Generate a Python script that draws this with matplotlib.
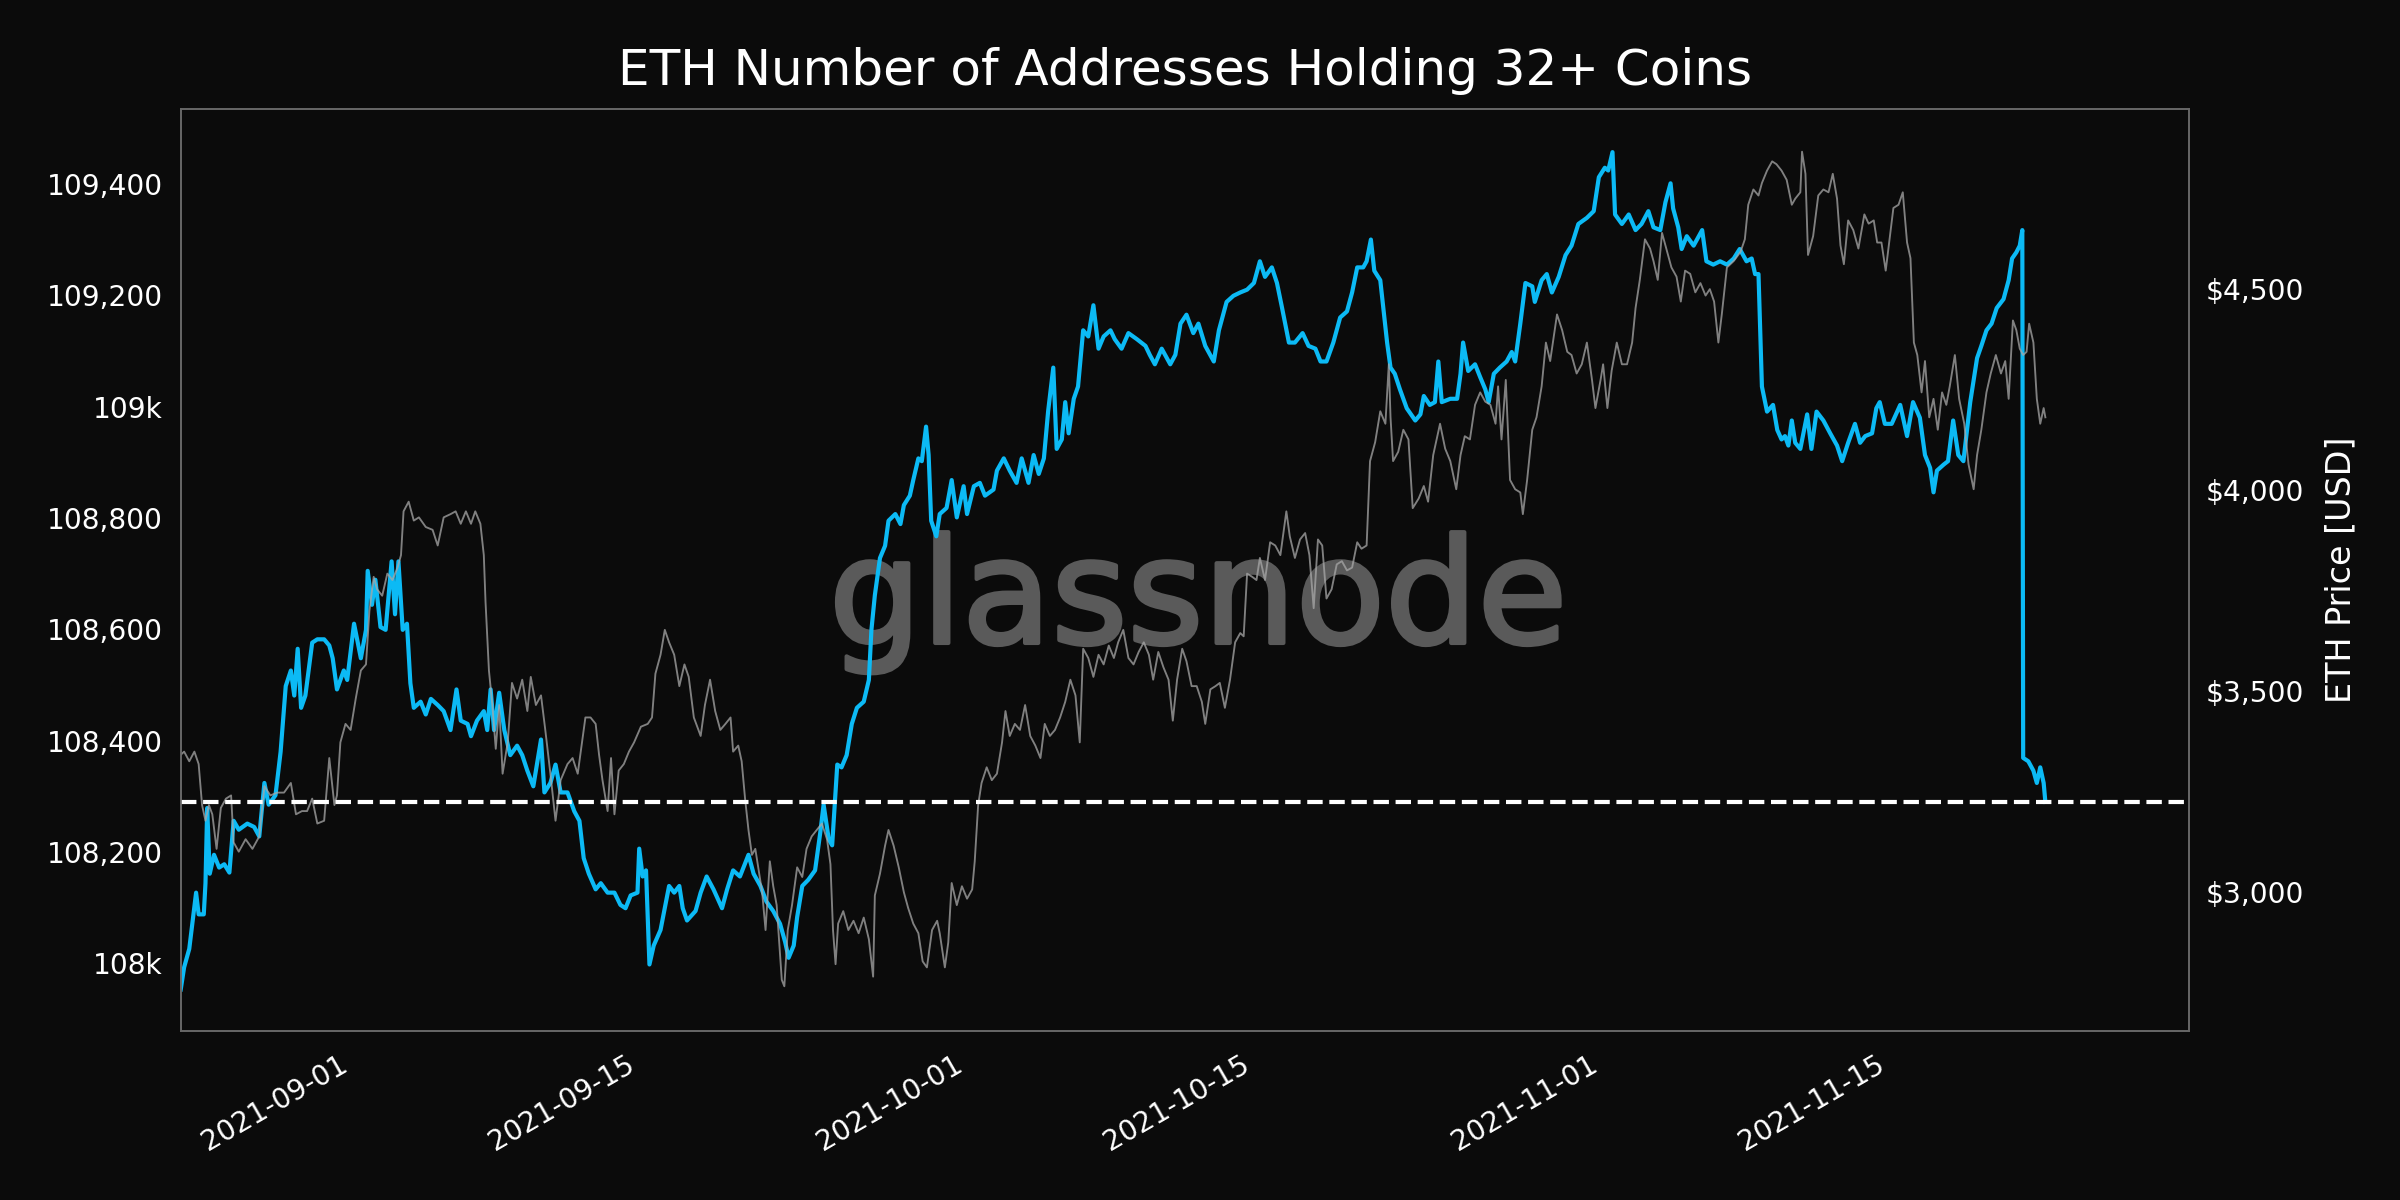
import numpy as np
import pandas as pd
import matplotlib
matplotlib.use('Agg')
import matplotlib.pyplot as plt
import matplotlib.dates as mdates
import matplotlib.patheffects as pe
from matplotlib.ticker import FuncFormatter

# hourly series, hours counted from START
START = '2021-08-23 15:00'
X_END = '2021-11-29 15:00'
TITLE = 'ETH Number of Addresses Holding 32+ Coins'
PRICE_LABEL = 'ETH Price [USD]'

tick_dates = ['2021-09-01', '2021-09-15', '2021-10-01', '2021-10-15', '2021-11-01', '2021-11-15']
addr_ticks = [108000, 108200, 108400, 108600, 108800, 109000, 109200, 109400]
price_ticks = [3000, 3500, 4000, 4500]
ref_level = 108290

addr_hours = [
    0, 4, 10, 18, 21, 27, 29, 31, 34, 39,
    45, 51, 57, 62, 68, 78, 86, 92, 98, 103,
    111, 117, 123, 129, 133, 137, 141, 146, 154, 160,
    168, 174, 178, 183, 191, 195, 203, 211, 217, 219,
    224, 228, 234, 240, 247, 251, 255, 260, 265, 269,
    273, 281, 287, 293, 301, 308, 316, 323, 328, 336,
    340, 347, 355, 359, 363, 367, 373, 379, 386, 394,
    400, 406, 413, 422, 426, 433, 439, 445, 453, 461,
    467, 472, 478, 486, 492, 500, 508, 515, 521, 527,
    535, 537, 541, 545, 549, 554, 562, 572, 578, 584,
    588, 593, 603, 609,
    616, 624, 634, 640, 647, 655, 665, 671, 679, 686,
    694, 702, 708, 712, 718, 722, 728, 735, 743, 749,
    753, 759, 763, 769, 774, 780, 786, 792, 800, 806,
    809, 813, 819, 825, 829, 837, 843, 847, 854, 858,
    864, 868, 873, 876, 879, 885, 889, 897, 903, 909,
    917, 921, 929, 936, 942, 952, 956, 964, 971, 979,
    985, 993, 999, 1005, 1011, 1016, 1022, 1026, 1032, 1036,
    1040, 1046, 1051, 1057, 1063, 1069, 1075, 1081, 1089, 1094,
    1102, 1110, 1120, 1130, 1135, 1141, 1149, 1159, 1165, 1171,
    1178, 1186, 1192, 1200, 1210, 1216,
    1225, 1233, 1241, 1249, 1257, 1264, 1270, 1278, 1284, 1290,
    1298, 1305, 1314, 1321, 1329, 1335, 1342, 1350, 1358, 1366,
    1372, 1378, 1385, 1389, 1394, 1398, 1405, 1409, 1413, 1417,
    1422, 1428, 1436, 1446, 1452, 1456, 1463, 1469, 1473, 1477,
    1487, 1495, 1499, 1502, 1508, 1516, 1522, 1528, 1532, 1538,
    1545, 1553, 1559, 1563, 1569, 1575, 1583, 1586, 1594, 1600,
    1606, 1614, 1622, 1629, 1637, 1647, 1655, 1661, 1668, 1672,
    1677, 1680, 1688, 1696, 1704, 1711, 1719, 1725, 1733, 1739,
    1745, 1748, 1754, 1758, 1764, 1772, 1782, 1787, 1795, 1803,
    1811, 1819,
    1826, 1834, 1840, 1844, 1848, 1852, 1858, 1865, 1870, 1875,
    1879, 1883, 1887, 1891, 1897, 1905, 1910, 1916, 1924, 1932,
    1940, 1946, 1953, 1961, 1967, 1973, 1981, 1986, 1990, 1996,
    2004, 2014, 2022, 2029, 2037, 2043, 2049, 2053, 2057, 2065,
    2070, 2076, 2082, 2088, 2096, 2104, 2109, 2115, 2121, 2127,
    2135, 2141, 2145, 2150, 2154, 2157, 2158, 2164, 2170, 2174,
    2178, 2182, 2184]

addr_count = [
    107953, 107993, 108026, 108127, 108088, 108088, 108144, 108279, 108161, 108195,
    108172, 108178, 108163, 108256, 108240, 108251, 108245, 108228, 108324, 108285,
    108302, 108380, 108498, 108526, 108481, 108565, 108459, 108481, 108576, 108582,
    108582, 108571, 108548, 108492, 108526, 108509, 108610, 108548, 108599, 108705,
    108644, 108689, 108604, 108599, 108722, 108627, 108722, 108599, 108610, 108503,
    108459, 108470, 108447, 108475, 108464, 108453, 108419, 108492, 108436, 108430,
    108408, 108436, 108453, 108419, 108492, 108419, 108486, 108419, 108374, 108391,
    108374, 108346, 108318, 108402, 108307, 108324, 108357, 108307, 108307, 108273,
    108256, 108189, 108161, 108133, 108144, 108127, 108127, 108105, 108099, 108122,
    108127, 108206, 108156, 108167, 107998, 108032, 108060, 108139, 108127, 108139,
    108099, 108077, 108094, 108127,
    108156, 108133, 108099, 108133, 108167, 108156, 108195, 108161, 108139, 108111,
    108094, 108071, 108038, 108010, 108032, 108083, 108139, 108150, 108167, 108234,
    108285, 108223, 108212, 108357, 108352, 108374, 108430, 108459, 108470, 108509,
    108599, 108661, 108728, 108750, 108795, 108807, 108789, 108823, 108840, 108868,
    108907, 108902, 108964, 108913, 108795, 108767, 108807, 108818, 108868, 108801,
    108857, 108807, 108857, 108863, 108840, 108851, 108885, 108907, 108885, 108863,
    108907, 108863, 108913, 108879, 108907, 108992, 109070, 108924, 108941, 109008,
    108952, 109014, 109036, 109137, 109126, 109182, 109104, 109126, 109137, 109121,
    109104, 109132, 109121, 109109, 109093, 109076, 109104, 109076, 109093, 109149,
    109165, 109132, 109149, 109109, 109081, 109137,
    109188, 109199, 109205, 109210, 109222, 109261, 109233, 109250, 109222, 109177,
    109115, 109115, 109132, 109109, 109104, 109081, 109081, 109115, 109160, 109171,
    109205, 109250, 109250, 109261, 109300, 109244, 109227, 109171, 109115, 109070,
    109059, 109031, 108997, 108975, 108986, 109019, 109003, 109008, 109081, 109008,
    109014, 109014, 109059, 109115, 109064, 109076, 109053, 109031, 109008, 109059,
    109070, 109081, 109098, 109081, 109149, 109222, 109216, 109188, 109227, 109238,
    109205, 109233, 109272, 109289, 109328, 109339, 109351, 109412, 109429, 109424,
    109457, 109345, 109328, 109345, 109317, 109328, 109351, 109322, 109317, 109367,
    109401, 109356, 109322, 109283, 109306, 109289, 109317, 109261, 109255, 109261,
    109255, 109266,
    109283, 109261, 109266, 109238, 109238, 109036, 108991, 109003, 108958, 108941,
    108947, 108930, 108975, 108935, 108924, 108986, 108924, 108991, 108975, 108952,
    108930, 108902, 108935, 108969, 108935, 108947, 108952, 108997, 109008, 108969,
    108969, 109003, 108947, 109008, 108980, 108913, 108890, 108846, 108885, 108896,
    108902, 108975, 108913, 108902, 109008, 109087, 109109, 109137, 109149, 109177,
    109193, 109227, 109266, 109277, 109289, 109317, 108369, 108363, 108346, 108324,
    108352, 108324, 108290]

price_hours = [
    0, 4, 10, 16, 21, 25, 29, 33, 37, 42,
    47, 53, 59, 62, 68, 76, 84, 92, 98, 105,
    113, 121, 129, 135, 142, 148, 154, 160, 168, 174,
    180, 183, 187, 193, 199, 205, 211, 217, 221, 226,
    230, 236, 242, 248, 254, 258, 261, 267, 273, 279,
    287, 295, 301, 308, 316, 322, 328, 334, 340, 345,
    351, 355, 357, 361, 365, 369, 373, 377, 383, 388,
    394, 400, 406, 410, 416, 422, 427, 433, 439, 445,
    453, 459, 465, 468, 474, 480, 486, 490, 494, 500,
    504, 508, 513, 519, 525, 531, 539, 547, 552, 556,
    562, 567, 572, 578, 584, 590, 595, 601, 609,
    614, 620, 626, 632, 638, 644, 647, 653, 657, 661,
    665, 669, 673, 677, 681, 685, 690, 694, 698, 704,
    707, 711, 716, 722, 728, 733, 739, 745, 751, 757,
    761, 764, 767, 770, 776, 782, 788, 794, 800, 806,
    811, 813, 819, 825, 829, 835, 841, 847, 852, 858,
    864, 869, 874, 880, 886, 889, 895, 899, 903, 909,
    915, 921, 927, 930, 934, 938, 944, 950, 956, 962,
    966, 971, 977, 983, 989, 995, 1001, 1007, 1012, 1018,
    1024, 1030, 1036, 1042, 1048, 1053, 1057, 1063, 1069, 1075,
    1081, 1087, 1093, 1098, 1104, 1110, 1116, 1122, 1128, 1134,
    1139, 1145, 1151, 1157, 1162, 1167, 1173, 1178, 1184, 1190,
    1196, 1200, 1206, 1212, 1217,
    1223, 1229, 1235, 1241, 1245, 1249, 1255, 1260, 1264, 1270,
    1276, 1282, 1288, 1295, 1299, 1305, 1311, 1317, 1322, 1327,
    1332, 1337, 1342, 1348, 1354, 1360, 1366, 1372, 1378, 1383,
    1389, 1393, 1399, 1405, 1411, 1415, 1417, 1420, 1426, 1432,
    1438, 1443, 1450, 1456, 1461, 1467, 1475, 1481, 1487, 1494,
    1499, 1504, 1510, 1516, 1522, 1528, 1534, 1540, 1543, 1547,
    1552, 1557, 1563, 1569, 1572, 1577, 1583, 1588, 1594, 1599,
    1604, 1612, 1618, 1624, 1629, 1635, 1641, 1647, 1653, 1657,
    1663, 1666, 1671, 1676, 1682, 1688, 1694, 1700, 1704, 1709,
    1715, 1721, 1725, 1730, 1735, 1741, 1746, 1752, 1757, 1762,
    1768, 1774, 1780, 1786, 1791, 1796, 1801, 1805, 1811, 1819,
    1827,
    1832, 1836, 1842, 1848, 1852, 1858, 1864, 1869, 1875, 1881,
    1887, 1891, 1897, 1899, 1903, 1906, 1912, 1918, 1924, 1930,
    1935, 1940, 1944, 1948, 1953, 1959, 1965, 1972, 1977, 1983,
    1987, 1992, 1997, 2002, 2006, 2012, 2017, 2022, 2026, 2030,
    2034, 2039, 2043, 2048, 2053, 2058, 2063, 2068, 2072, 2078,
    2083, 2089, 2094, 2100, 2104, 2109, 2115, 2120, 2126, 2132,
    2137, 2141, 2146, 2150, 2154, 2158, 2162, 2165, 2170, 2174,
    2178, 2182, 2184]

price_usd = [
    3341, 3349, 3325, 3349, 3318, 3216, 3177, 3216, 3193, 3107,
    3209, 3232, 3240, 3123, 3100, 3131, 3107, 3138, 3263, 3240,
    3247, 3247, 3271, 3193, 3201, 3201, 3232, 3170, 3177, 3333,
    3216, 3240, 3372, 3418, 3403, 3481, 3551, 3566, 3699, 3784,
    3753, 3737, 3792, 3776, 3807, 3838, 3947, 3971, 3924, 3932,
    3908, 3901, 3862, 3932, 3940, 3947, 3916, 3947, 3916, 3947,
    3916, 3838, 3722, 3551, 3465, 3356, 3465, 3294, 3372, 3520,
    3481, 3528, 3450, 3535, 3465, 3489, 3403, 3294, 3177, 3278,
    3318, 3333, 3294, 3341, 3434, 3434, 3418, 3341, 3278, 3201,
    3333, 3193, 3302, 3318, 3349, 3372, 3411, 3418, 3434, 3543,
    3590, 3652, 3621, 3590, 3512, 3566, 3535, 3434, 3388,
    3465, 3528, 3450, 3403, 3418, 3434, 3349, 3364, 3325, 3232,
    3154, 3092, 3107, 3053, 2999, 2905, 3076, 3014, 2967, 2781,
    2765, 2905, 2967, 3061, 3037, 3107, 3138, 3154, 3170, 3131,
    3069, 2905, 2820, 2921, 2952, 2905, 2928, 2897, 2936, 2882,
    2789, 2991, 3045, 3115, 3154, 3115, 3061, 2999, 2960, 2921,
    2897, 2827, 2812, 2905, 2928, 2897, 2812, 2874, 3022, 2967,
    3014, 2983, 3006, 3076, 3216, 3271, 3310, 3278, 3294, 3372,
    3450, 3388, 3418, 3403, 3465, 3388, 3364, 3333, 3418, 3388,
    3403, 3434, 3473, 3528, 3489, 3372, 3605, 3582, 3535, 3590,
    3566, 3613, 3582, 3621, 3652, 3582, 3566, 3597, 3621, 3590,
    3528, 3597, 3559, 3528, 3426, 3528, 3605, 3574, 3512, 3512,
    3473, 3418, 3504, 3512, 3520,
    3458, 3528, 3621, 3644, 3636, 3792, 3784, 3776, 3831, 3776,
    3870, 3862, 3838, 3947, 3885, 3831, 3877, 3893, 3838, 3706,
    3877, 3862, 3730, 3753, 3815, 3823, 3800, 3807, 3870, 3854,
    3862, 4072, 4119, 4196, 4165, 4313, 4181, 4072, 4095, 4150,
    4126, 3955, 3979, 4010, 3971, 4087, 4165, 4103, 4072, 4002,
    4087, 4134, 4126, 4212, 4243, 4220, 4212, 4165, 4258, 4126,
    4274, 4025, 4002, 3994, 3940, 4025, 4150, 4181, 4258, 4367,
    4321, 4437, 4398, 4344, 4336, 4290, 4313, 4367, 4274, 4204,
    4274, 4313, 4204, 4297, 4367, 4313, 4313, 4367, 4453, 4523,
    4624, 4601, 4570, 4523, 4640, 4593, 4554, 4531, 4469, 4546,
    4538, 4492, 4515, 4484, 4500, 4469, 4367, 4437, 4554, 4570,
    4593,
    4624, 4710, 4748, 4733, 4764, 4795, 4818, 4811, 4795, 4772,
    4710, 4725, 4741, 4842, 4787, 4585, 4632, 4733, 4748, 4741,
    4787, 4725, 4609, 4562, 4671, 4647, 4601, 4686, 4663, 4671,
    4616, 4616, 4546, 4632, 4702, 4710, 4741, 4616, 4577, 4367,
    4336, 4243, 4321, 4181, 4227, 4150, 4243, 4212, 4258, 4336,
    4227, 4165, 4064, 4002, 4087, 4150, 4243, 4290, 4336, 4290,
    4321, 4227, 4422, 4398, 4352, 4336, 4344, 4414, 4367, 4227,
    4165, 4204, 4181]

BG = '#0b0b0b'
BLUE = '#0cbaf5'
GRAY = '#a8a8a8'
SPINE = '#686868'
MARK = '#5a5a5a'


def addr_fmt(v, pos):
    # round thousands shown as "108k", the rest with commas
    if v % 1000 == 0:
        return '%dk' % (v // 1000)
    return '{:,.0f}'.format(v)


def price_fmt(v, pos):
    return '${:,.0f}'.format(v)


start = pd.Timestamp(START)
addr_t = start + pd.to_timedelta(addr_hours, unit='h')
price_t = start + pd.to_timedelta(price_hours, unit='h')

fig = plt.figure(figsize=(16, 8), dpi=150, facecolor=BG)
ax1 = fig.add_axes([0.0753, 0.1406, 0.8367, 0.7688])
ax1.set_facecolor(BG)
ax2 = ax1.twinx()

# watermark under the lines
ax1.text(0.5066, 0.4209, 'glassnode', transform=ax1.transAxes, ha='center',
         va='baseline', fontsize=70, color=MARK, zorder=0.5,
         path_effects=[pe.Stroke(linewidth=2, foreground=MARK), pe.Normal()])

ax1.plot(addr_t, addr_count, color=BLUE, lw=2.0, zorder=2)
ax2.plot(price_t, price_usd, color=GRAY, lw=0.9, alpha=0.75)

# dashed reference level sits on top of the price line
ax2.plot([0, 1], [ref_level, ref_level], transform=ax1.get_yaxis_transform(),
         color='white', lw=2.0, ls='--')

ax1.set_xlim(start, pd.Timestamp(X_END))
ax1.set_ylim(107878, 109535)
ax2.set_ylim(2653, 4949)

ax1.set_xticks(pd.to_datetime(tick_dates))
ax1.xaxis.set_major_formatter(mdates.DateFormatter('%Y-%m-%d'))
ax1.set_yticks(addr_ticks)
ax1.yaxis.set_major_formatter(FuncFormatter(addr_fmt))
ax2.set_yticks(price_ticks)
ax2.yaxis.set_major_formatter(FuncFormatter(price_fmt))

ax1.tick_params(axis='y', length=0, colors='white', labelsize=13.5, pad=8.5)
ax1.tick_params(axis='x', length=0, colors='white', labelsize=13.5, pad=9)
ax2.tick_params(axis='y', length=0, colors='white', labelsize=13.5, pad=8)
plt.setp(ax1.get_xticklabels(), rotation=30, ha='right')

for ax in (ax1, ax2):
    for s in ax.spines.values():
        s.set_color(SPINE)
        s.set_linewidth(0.8)

ax1.set_title(TITLE, color='white', fontsize=24, pad=11.5)
ax2.set_ylabel(PRICE_LABEL, color='white', fontsize=16, labelpad=10)

fig.savefig('out.png', dpi=150, facecolor=BG)
